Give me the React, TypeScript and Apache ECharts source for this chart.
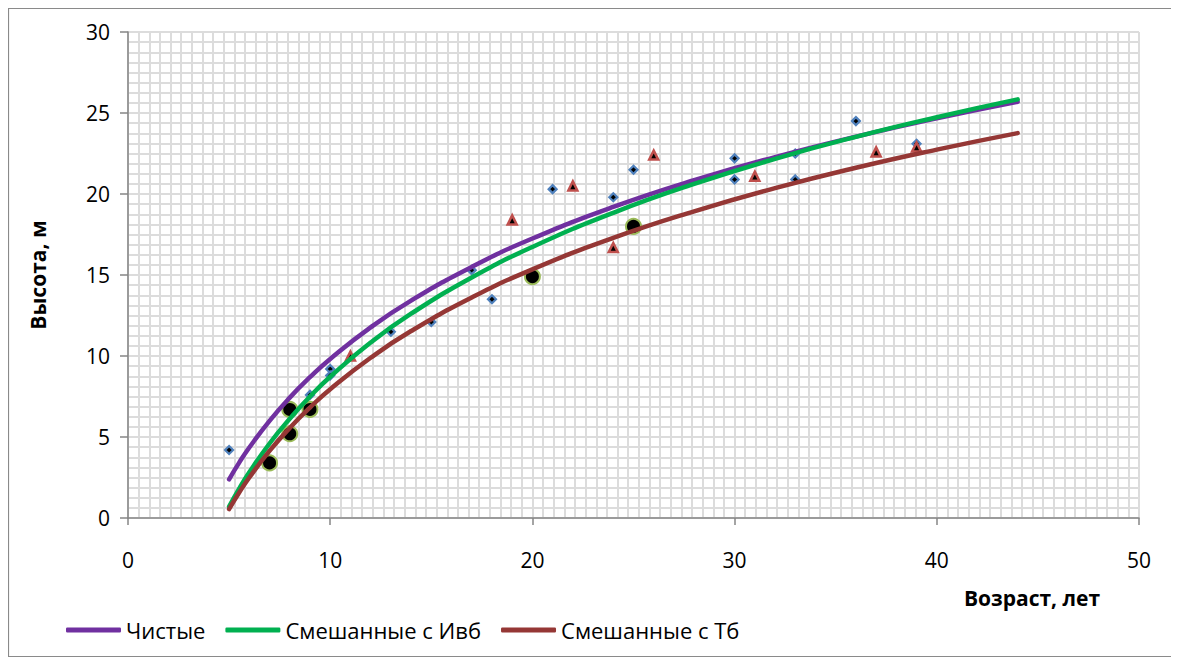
import React, { useEffect, useRef } from "react";
import * as echarts from "echarts";

// Measured stands: age (years) and height (m)
const pureAge = [5, 9, 10, 10, 13, 15, 17, 18, 21, 24, 25, 30, 30, 33, 33, 36, 39];
const pureHeight = [4.2, 7.6, 9.2, 8.8, 11.5, 12.1, 15.3, 13.5, 20.3, 19.8, 21.5, 22.2, 20.9, 22.5, 20.9, 24.5, 23.1];

const mixTbAge = [11, 19, 22, 24, 26, 31, 37, 39];
const mixTbHeight = [10.0, 18.4, 20.5, 16.7, 22.4, 21.1, 22.6, 22.9];

const mixIvbAge = [7, 8, 8, 9, 20, 25];
const mixIvbHeight = [3.4, 6.7, 5.2, 6.7, 14.9, 18.0];

// Fitted growth curves
const curveAge = [5, 5.5, 6, 7, 8, 9, 10, 12, 14, 17, 20, 24, 28, 32, 36, 40, 44];
const curvePure = [2.39, 3.42, 4.35, 6.0, 7.43, 8.69, 9.82, 11.77, 13.42, 15.5, 17.25, 19.2, 20.85, 22.28, 23.54, 24.67, 25.69];
const curveIvb = [0.7, 1.81, 2.82, 4.6, 6.13, 7.5, 8.72, 10.83, 12.61, 14.85, 16.73, 18.84, 20.62, 22.17, 23.53, 24.74, 25.84];
const curveTb = [0.55, 1.57, 2.5, 4.14, 5.56, 6.82, 7.95, 9.89, 11.54, 13.61, 15.35, 17.29, 18.93, 20.36, 21.62, 22.74, 23.76];

const legendNames = ["Чистые", "Смешанные с Ивб", "Смешанные с Тб"];
const xTitle = "Возраст, лет";
const yTitle = "Высота, м";

const FONT = "'Open Sans', 'Noto Sans', sans-serif";

const pairs = (xs: number[], ys: number[]) => xs.map((x, i) => [x, ys[i]]);

export default function App() {
  const ref = useRef<HTMLDivElement>(null);

  useEffect(() => {
    if (!ref.current) return;
    const chart = echarts.init(ref.current, null, { renderer: "svg" });
    const gridColor = "#dcdcdc";
    const axisColor = "#868686";

    chart.setOption({
      animation: false,
      backgroundColor: "#ffffff",
      textStyle: { fontFamily: FONT },
      grid: { left: 120, right: 39, top: 24, bottom: 140, show: true, backgroundColor: "#ffffff", borderWidth: 0 },
      graphic: [
        {
          type: "rect",
          shape: { x: 0.5, y: 0.5, width: 1168, height: 648 },
          style: { fill: "none", stroke: "#8a8a8a", lineWidth: 1.2 },
          silent: true,
        },
        {
          type: "text",
          x: 1024,
          y: 590,
          style: {
            text: xTitle,
            font: `bold 21px ${FONT}`,
            fill: "#000000",
            textAlign: "center",
            textVerticalAlign: "middle",
          },
        },
      ],
      legend: {
        data: legendNames,
        left: 53,
        top: 606,
        icon: "roundRect",
        itemWidth: 55,
        itemHeight: 5,
        itemGap: 20,
        textStyle: { fontFamily: FONT, fontSize: 22, color: "#000000" },
      },
      xAxis: {
        type: "value",
        min: 0,
        max: 50,
        interval: 10,
        axisLine: { show: true, lineStyle: { color: axisColor, width: 1.5 } },
        axisTick: { show: true, length: 7, lineStyle: { color: axisColor, width: 1.5 } },
        axisLabel: { fontSize: 21, color: "#000000", margin: 31, fontFamily: FONT },
        splitLine: { show: true, lineStyle: { color: gridColor, width: 2 } },
        minorTick: { show: false, splitNumber: 19 },
        minorSplitLine: { show: true, lineStyle: { color: gridColor, width: 2 } },
      },
      yAxis: {
        type: "value",
        min: 0,
        max: 30,
        interval: 5,
        name: yTitle,
        nameLocation: "middle",
        nameGap: 80,
        nameRotate: 90,
        nameTextStyle: { fontSize: 21, fontWeight: "bold", color: "#000000", fontFamily: FONT },
        axisLine: { show: true, lineStyle: { color: axisColor, width: 1.5 } },
        axisTick: { show: true, length: 8, lineStyle: { color: axisColor, width: 1.5 } },
        axisLabel: { fontSize: 21, color: "#000000", margin: 18, fontFamily: FONT },
        splitLine: { show: true, lineStyle: { color: gridColor, width: 2 } },
        minorTick: { show: false, splitNumber: 8 },
        minorSplitLine: { show: true, lineStyle: { color: gridColor, width: 2 } },
      },
      series: [
        {
          name: "pure-points",
          type: "scatter",
          symbol: "diamond",
          symbolSize: 8,
          itemStyle: { color: "#000000", borderColor: "#4F81BD", borderWidth: 2.2, opacity: 1 },
          data: pairs(pureAge, pureHeight),
          z: 2,
        },
        {
          name: "tb-points",
          type: "scatter",
          symbol: "triangle",
          symbolSize: 9,
          itemStyle: { color: "#000000", borderColor: "#C0504D", borderWidth: 2.5, opacity: 1 },
          data: pairs(mixTbAge, mixTbHeight),
          z: 2,
        },
        {
          name: "ivb-points",
          type: "scatter",
          symbol: "circle",
          symbolSize: 15,
          itemStyle: { color: "#000000", borderColor: "#9BBB59", borderWidth: 2, opacity: 1 },
          data: pairs(mixIvbAge, mixIvbHeight),
          z: 2,
        },
        {
          name: legendNames[0],
          type: "line",
          smooth: true,
          showSymbol: false,
          color: "#7030A0",
          lineStyle: { color: "#7030A0", width: 4.5, cap: "round" },
          data: pairs(curveAge, curvePure),
          z: 3,
        },
        {
          name: legendNames[1],
          type: "line",
          smooth: true,
          showSymbol: false,
          color: "#00B050",
          lineStyle: { color: "#00B050", width: 4.5, cap: "round" },
          data: pairs(curveAge, curveIvb),
          z: 3,
        },
        {
          name: legendNames[2],
          type: "line",
          smooth: true,
          showSymbol: false,
          color: "#953735",
          lineStyle: { color: "#953735", width: 4.5, cap: "round" },
          data: pairs(curveAge, curveTb),
          z: 3,
        },
      ],
    });

    return () => chart.dispose();
  }, []);

  return <div ref={ref} style={{ width: 1170, height: 650 }} />;
}
